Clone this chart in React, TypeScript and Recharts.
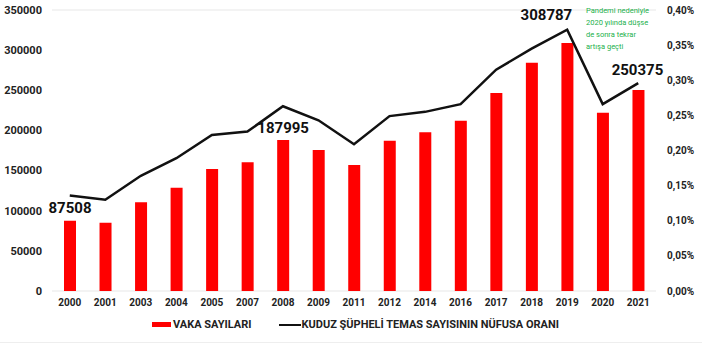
import { Bar, CartesianGrid, ComposedChart, LabelList, Line, XAxis, YAxis } from "recharts"

const years = ["2000", "2001", "2003", "2004", "2005", "2007", "2008", "2009", "2011", "2012", "2014", "2016", "2017", "2018", "2019", "2020", "2021"]
const cases = [87508, 85000, 110500, 128700, 152000, 160300, 187995, 175600, 156900, 187200, 197600, 212100, 246600, 284400, 308787, 222100, 250375]
const ratio = [0.136, 0.13, 0.164, 0.189, 0.222, 0.227, 0.263, 0.243, 0.209, 0.249, 0.255, 0.266, 0.315, 0.345, 0.372, 0.266, 0.296]
const leftTicks = [0, 50000, 100000, 150000, 200000, 250000, 300000, 350000]
const rightTicks = [0, 0.05, 0.1, 0.15, 0.2, 0.25, 0.3, 0.35, 0.4]
const labeledCases = [87508, 187995, 308787, 250375]
const noteLines = ["Pandemi nedeniyle", "2020 yılında düşse", "de sonra tekrar", "artışa geçti"]

const data = years.map((year, i) => ({ year, cases: cases[i], ratio: ratio[i] }))

const FONT = "Roboto, 'DejaVu Sans', sans-serif"

// where each big number sits relative to its bar top
const labelShift: Record<number, { dx: number; dy: number }> = {
  87508: { dx: 0, dy: -8 },
  187995: { dx: 0, dy: -7 },
  308787: { dx: -21, dy: -23 },
  250375: { dx: -1, dy: -15 },
}

function BigLabel(props: any) {
  const { x, y, width, value } = props
  if (!labeledCases.includes(value)) return null
  const s = labelShift[value]
  return (
    <text
      x={x + width / 2 + s.dx}
      y={y + s.dy}
      textAnchor="middle"
      fontFamily={FONT}
      fontWeight={700}
      fontSize={15}
      fill="#111"
    >
      {value}
    </text>
  )
}

export default function App() {
  return (
    <div style={{ position: "absolute", left: 0, top: 0, width: 702, height: 351, background: "#fff", fontFamily: FONT }}>
      <ComposedChart width={702} height={351} data={data} margin={{ top: 10, right: 0, bottom: 38, left: 0 }}>
        <CartesianGrid vertical={false} stroke="#e8e8e8" strokeWidth={1.2} />
        <XAxis
          dataKey="year"
          height={22}
          axisLine={false}
          tickLine={false}
          interval={0}
          tick={{ fontSize: 10, fontWeight: 700, fill: "#222", fontFamily: FONT }}
        />
        <YAxis
          yAxisId="left"
          width={52}
          domain={[0, 350000]}
          ticks={leftTicks}
          axisLine={false}
          tickLine={false}
          tick={{ fontSize: 11, fontWeight: 700, fill: "#222", fontFamily: FONT, dx: -2 }}
        />
        <YAxis
          yAxisId="right"
          orientation="right"
          width={46}
          domain={[0, 0.4]}
          ticks={rightTicks}
          axisLine={false}
          tickLine={false}
          tickFormatter={(v: number) => v.toFixed(2).replace(".", ",") + "%"}
          tick={{ fontSize: 10, fontWeight: 700, fill: "#222", fontFamily: FONT, dx: 3 }}
        />
        <Bar yAxisId="left" dataKey="cases" fill="#ff0000" barSize={12} isAnimationActive={false}>
          <LabelList dataKey="cases" content={BigLabel} />
        </Bar>
        <Line
          yAxisId="right"
          type="linear"
          dataKey="ratio"
          stroke="#111"
          strokeWidth={2.5}
          dot={false}
          activeDot={false}
          isAnimationActive={false}
        />
      </ComposedChart>

      <div style={{ position: "absolute", left: 586, top: 5, fontSize: 7.5, lineHeight: "12px", color: "#22b04b", whiteSpace: "nowrap" }}>
        {noteLines.map((t) => (
          <div key={t}>{t}</div>
        ))}
      </div>

      <div style={{ position: "absolute", left: 152, top: 318, display: "flex", alignItems: "center", fontSize: 11, fontWeight: 700, color: "#222", whiteSpace: "nowrap" }}>
        <span style={{ display: "inline-block", width: 19, height: 5, background: "#ff0000", marginRight: 2 }} />
        <span>VAKA SAYILARI</span>
        <span style={{ display: "inline-block", width: 22, height: 2, background: "#111", marginLeft: 28 }} />
        <span>KUDUZ ŞÜPHELİ TEMAS SAYISININ NÜFUSA ORANI</span>
      </div>
      <div style={{ position: "absolute", left: 0, top: 342, width: 702, height: 1, background: "#eee" }} />
    </div>
  )
}
